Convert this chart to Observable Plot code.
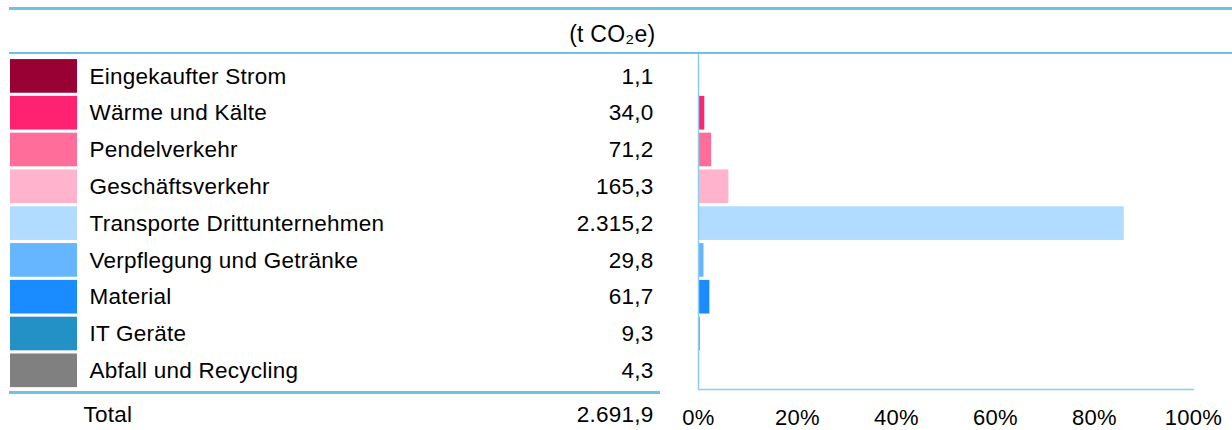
<!DOCTYPE html>
<html><head><meta charset="utf-8">
<script src="https://cdn.jsdelivr.net/npm/d3@7"></script>
<script src="https://cdn.jsdelivr.net/npm/@observablehq/plot@0.6"></script>
<style>
body{margin:0;background:#fff;}
#wrap{position:relative;width:1232px;height:430px;font-family:"Liberation Sans",Arial,sans-serif;}
#wrap svg{display:block;}
#wrap svg text{letter-spacing:0.25px;}
.hl{position:absolute;background:#6ec1e4;}
</style></head><body><div id="wrap"></div>
<script>
const categories = ["Eingekaufter Strom","Wärme und Kälte","Pendelverkehr","Geschäftsverkehr","Transporte Drittunternehmen","Verpflegung und Getränke","Material","IT Geräte","Abfall und Recycling"];
const values = [1.1, 34.0, 71.2, 165.3, 2315.2, 29.8, 61.7, 9.3, 4.3];
const colors = ["#990033","#ff2270","#ff6e9a","#ffb3cc","#b1dbff","#66b5ff","#1a8cff","#2391c5","#808080"];
const percentTicks = [0, 0.2, 0.4, 0.6, 0.8, 1];
const unitLabel = "(t CO₂e)";
const totalLabel = "Total";

const de = d3.formatLocale({decimal: ",", thousands: ".", grouping: [3], currency: ["", " €"]});
const fmt = de.format(",.1f");
const data = categories.map((c, i) => ({cat: c, value: values[i]}));
const total = d3.sum(values);
const axisColor = "#8ccfeb";

const chart = Plot.plot({
  width: 1232, height: 430,
  marginLeft: 698, marginRight: 39, marginTop: 54, marginBottom: 41,
  style: {fontFamily: '"Liberation Sans", Arial, sans-serif', fontSize: "22.5px", color: "#000", background: "transparent"},
  x: {domain: [0, 1], axis: null},
  y: {domain: categories, range: [57.5, 388.7], paddingInner: 0.085, paddingOuter: 0.0425, round: false, axis: null},
  color: {domain: categories, range: colors},
  marks: [
    Plot.cell(data, {y: "cat", fill: "cat", insetLeft: -688, insetRight: 1116}),
    Plot.text(data, {y: "cat", text: "cat", frameAnchor: "left", dx: -609, textAnchor: "start", lineAnchor: "middle", fill: "#000"}),
    Plot.text(data, {y: "cat", text: d => fmt(d.value), frameAnchor: "left", dx: -45, textAnchor: "end", lineAnchor: "middle", fill: "#000"}),
    Plot.barX(data, {x: d => d.value / total, y: "cat", fill: "cat"}),
    Plot.ruleX([0], {stroke: axisColor, strokeWidth: 1.5}),
    Plot.frame({anchor: "bottom", stroke: axisColor, strokeWidth: 1.5}),
    Plot.axisX({ticks: percentTicks, tickFormat: d => `${Math.round(d * 100)}%`, tickSize: 0, tickPadding: 20, fontSize: 22, label: null, fill: "#000"}),
    Plot.text([unitLabel], {text: d => d, frameAnchor: "top-left", dx: -43, dy: -20, textAnchor: "end", lineAnchor: "middle", fontSize: 23, fill: "#000"}),
    Plot.text([totalLabel], {text: d => d, frameAnchor: "bottom-left", dx: -615, dy: 25, textAnchor: "start", lineAnchor: "middle", fill: "#000"}),
    Plot.text([total], {text: d => fmt(d), frameAnchor: "bottom-left", dx: -45, dy: 25, textAnchor: "end", lineAnchor: "middle", fill: "#000"})
  ]
});
const wrap = document.getElementById("wrap");
wrap.appendChild(chart);
function hline(left, top, width, height) {
  const d = document.createElement("div");
  d.className = "hl";
  Object.assign(d.style, {left: left + "px", top: top + "px", width: width + "px", height: height + "px"});
  wrap.appendChild(d);
}
hline(9, 7.3, 1223, 2.4);
hline(9, 51.6, 1223, 2.4);
hline(9, 391, 651, 2.6);
</script>
</body></html>
